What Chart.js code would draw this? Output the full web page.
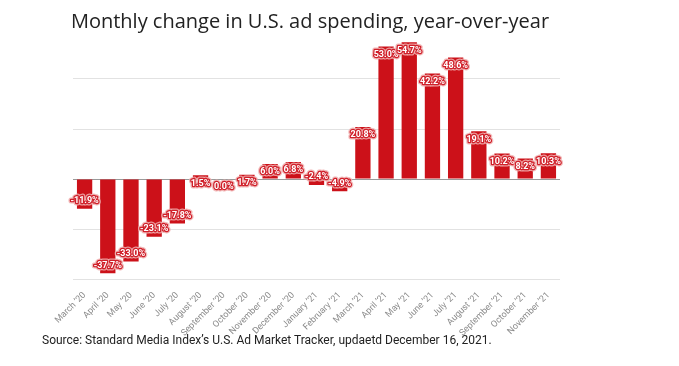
<!DOCTYPE html>
<html>
<head>
<meta charset="utf-8">
<script src="https://cdn.jsdelivr.net/npm/chart.js@4"></script>
<style>
  body { margin: 0; background: #fff; }
  #wrap { position: relative; width: 679px; height: 366px; overflow: hidden; }
  #title { position: absolute; left: 0; top: 7px; width: 620px; text-align: center;
           font: 20px 'Open Sans', sans-serif; color: #222; }
  #source { position: absolute; left: 42px; top: 333px;
            font: 12px Roboto, sans-serif; color: #222; }
  canvas { position: absolute; left: 0; top: 0; }
</style>
</head>
<body>
<div id="wrap">
  <canvas id="chart" width="679" height="366"></canvas>
  <div id="title">Monthly change in U.S. ad spending, year-over-year</div>
  <div id="source">Source: Standard Media Index’s U.S. Ad Market Tracker, updaetd December 16, 2021.</div>
</div>
<script>
// dados
const months = ["March ’20", "April ’20", "May ’20", "June ’20", "July ’20", "August ’20",
  "September ’20", "October ’20", "November ’20", "December ’20", "January ’21", "February ’21",
  "March ’21", "April ’21", "May ’21", "June ’21", "July ’21", "August ’21",
  "September ’21", "October ’21", "November ’21"];
const changes = [-11.9, -37.7, -33.0, -23.1, -17.8, 1.5, 0.0, 1.7, 6.0, 6.8, -2.4, -4.9,
  20.8, 53.0, 54.7, 42.2, 48.6, 19.1, 10.2, 8.2, 10.3];
const yMin = -40, yMax = 60, yStep = 20;

// rótulos em cima das barras
const barLabels = {
  id: 'barLabels',
  afterDatasetsDraw(chart) {
    const ctx = chart.ctx;
    const meta = chart.getDatasetMeta(0);
    ctx.save();
    ctx.font = 'bold 9px Roboto, sans-serif';
    ctx.textAlign = 'center';
    ctx.textBaseline = 'middle';
    ctx.lineJoin = 'round';
    meta.data.forEach((bar, i) => {
      const v = changes[i];
      const y = v >= 0 ? bar.y + 8 : bar.y - 8;
      const txt = v.toFixed(1) + '%';
      ctx.strokeStyle = 'rgba(240,175,175,0.85)';
      ctx.lineWidth = 5;
      ctx.strokeText(txt, bar.x, y);
      ctx.strokeStyle = '#d0202a';
      ctx.lineWidth = 2.5;
      ctx.strokeText(txt, bar.x, y);
      ctx.fillStyle = '#fff';
      ctx.fillText(txt, bar.x, y);
    });
    ctx.restore();
  }
};

new Chart(document.getElementById('chart'), {
  type: 'bar',
  data: {
    labels: months,
    datasets: [{ data: changes, backgroundColor: '#cc1119', borderWidth: 0,
                 barPercentage: 0.66, categoryPercentage: 1 }]
  },
  options: {
    responsive: false,
    animation: false,
    layout: { padding: { left: 73, right: 119, top: 29, bottom: 27 } },
    plugins: { legend: { display: false }, tooltip: { enabled: false } },
    scales: {
      x: {
        grid: { display: false },
        border: { display: false },
        ticks: { color: '#8a8a8a', font: { family: 'Roboto', size: 9 },
                 minRotation: 45, maxRotation: 45, autoSkip: false, padding: 3 },
        afterFit(s) { s.height = 60; }
      },
      y: {
        min: yMin, max: yMax,
        ticks: { display: false, stepSize: yStep },
        border: { display: false },
        grid: {
          drawTicks: false,
          lineWidth: 1,
          color: c => c.tick.value === 0 ? '#9a9a9a' : (c.tick.value === yMax ? 'rgba(0,0,0,0)' : '#e2e2e2')
        },
        afterFit(s) { s.width = 0; }
      }
    }
  },
  plugins: [barLabels]
});
</script>
</body>
</html>
